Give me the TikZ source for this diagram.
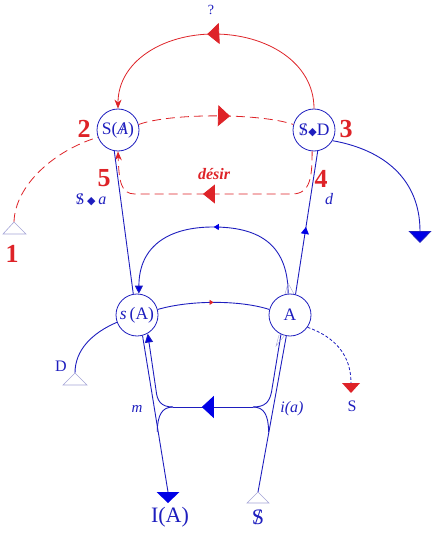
\documentclass[tikz,border=0pt]{standalone}
\usepackage{fontspec}
\setmainfont{Liberation Serif}
\newfontfamily\djv{DejaVu Sans}
\usetikzlibrary{arrows.meta,decorations.markings}
\definecolor{lb}{RGB}{30,30,190}
\definecolor{fb}{RGB}{0,0,230}
\definecolor{lr}{RGB}{222,35,40}
\definecolor{pale}{RGB}{165,165,215}
\newcommand{\mybS}{\ooalign{S\cr\hidewidth/\hidewidth\cr}}
\newcommand{\mybA}{\ooalign{\textit{A}\cr\hidewidth/\hidewidth\cr}}
\newcommand{\mydiam}{{\djv\fontsize{11}{11}\selectfont ◆}}
\begin{document}
\begin{tikzpicture}[x=1pt,y=-1pt,
  circ/.style={draw=lb, line width=0.8pt, circle, minimum size=42pt, inner sep=0pt, text=lb, font=\fontsize{17.5}{17.5}\selectfont},
  bl/.style={draw=lb, line width=0.9pt},
  rl/.style={draw=lr, line width=0.8pt},
  rdash/.style={rl, dash pattern=on 9pt off 5pt},
  midarr/.style n args={3}{postaction={decorate,decoration={markings,mark=at position #1 with {\arrow[#2]{#3}}}}},
  num/.style={text=lr, font=\fontsize{26}{26}\selectfont\bfseries, inner sep=0pt},
  lab/.style={text=lb, inner sep=0pt},
  hollowtri/.style={draw=pale, fill=white, line width=0.6pt},
  pt/.style={draw=pale, line width=0.4pt}
]
\path[use as bounding box] (0,0) rectangle (440,537);

% main nodes
\node[circ] (SA) at (118,130) {S(\mybA)};
\node[circ] (SD) at (314,130) {\mybS\mydiam D};
\node[circ] (sA) at (137,315) {\textit{s}\,(A)};
\node[circ] (AA) at (290,315) {A};

% free-end coordinates
\coordinate (t1) at (14,222);
\coordinate (tD) at (75,373);
\coordinate (tS) at (258,492);
\coordinate (eIA) at (168,492);
\coordinate (eR) at (420,243);
\coordinate (eS) at (351,393);
\coordinate (hR) at (253,407);
\coordinate (hL) at (173,407);
\coordinate (jR) at (268.6,432);
\coordinate (jL) at (157.2,432);

% red solid top arc
\draw[rl, -{Stealth[length=9pt,width=7pt]},
  midarr={0.53}{lr}{Triangle[length=12pt,width=21pt]}]
  (SD.north) .. controls (314,62) and (266,34) .. (214,34)
  .. controls (162,34) and (118,62) .. (SA.north);
\node[lab, font=\fontsize{14}{14}\selectfont] (q) at (211,10) {?};

% red dashed upper
\draw[rdash, midarr={0.59}{lr}{Triangle[length=12pt,width=21pt]}]
  (SA.15) .. controls (170,113) and (260,113) .. (SD.165);

% red dashed from 1
\draw[rdash] (t1) .. controls (15,185) and (55,150) .. (SA.200);
\draw[hollowtri] (t1) -- ++(-11,12) -- ++(23,0) -- cycle;

% desir path
\draw[rdash, -{Stealth[length=9pt,width=7pt]},
  midarr={0.545}{lr}{Triangle[length=12pt,width=19pt]}]
  (SD.-95) .. controls (312,176) and (311,194) .. (292,194)
  -- (135,194) .. controls (121,194) and (119,182) .. (SA.-90);
\node[text=lr, inner sep=0pt, font=\fontsize{16}{16}\selectfont\bfseries\itshape] (desir) at (214,174) {désir};

% numbers
\node[num] (n1) at (12,254) {1};
\node[num] (n2) at (84,129) {2};
\node[num] (n3) at (346,129) {3};
\node[num] (n4) at (321,179) {4};
\node[num] (n5) at (104,178) {5};

% blue labels
\node[lab, font=\fontsize{16}{16}\selectfont] (Sa) at (91,200) {\mybS\,\mydiam\,\textit{a}};
\node[lab, font=\fontsize{16}{16}\selectfont\itshape] (d) at (329,199) {d};

% blue lines upper
\draw[bl] (SA.-100) -- (sA.100);
\draw[bl, midarr={0.47}{fb}{Triangle[length=7pt,width=8pt]}] (AA.75) -- (SD.-80);
\draw[bl, -{Triangle[length=12pt,width=23pt,fill=fb]}]
  (SD.-30) .. controls (385,150) and (420,180) .. (eR);

% arc from A to s(A)
\draw[bl, -{Triangle[length=8pt,width=8pt,fill=fb]},
  midarr={0.5}{fb}{Triangle[length=5pt,width=6pt]}]
  (AA.95) .. controls (288,242) and (256,227) .. (213,227)
  .. controls (170,227) and (139,245) .. (sA.85);

% s(A) to A
\draw[bl, midarr={0.5}{lr}{Triangle[length=4pt,width=5pt]}]
  (sA.15) .. controls (190,300) and (240,300) .. (AA.165);

% D branch
\draw[bl] (sA.200) .. controls (92,333) and (75,350) .. (tD);
\draw[hollowtri] (tD) -- ++(-12,12) -- ++(24,0) -- cycle;
\node[lab, font=\fontsize{16}{16}\selectfont] (Dl) at (61,366) {D};

% dashed to S
\draw[draw=lb, line width=0.8pt, dash pattern=on 3pt off 2pt]
  (AA.-35) .. controls (335,337) and (351,355) .. (351,383);
\fill[lr] (eS) -- ++(-9,-10) -- ++(18,0) -- cycle;
\node[lab, font=\fontsize{16}{16}\selectfont] (Sl) at (352,406) {S};

% lower structure
\draw[bl] (sA.-75) -- (eIA);
\fill[fb] (eIA) ++(-11.5,0) -- ++(23,0) -- ++(-11.5,11) -- cycle;
\draw[bl] (tS) -- (AA.-100);
\draw[bl, -{Triangle[length=9pt,width=8pt,fill=fb]}]
  (hL) .. controls (161,407) and (157,401) .. (156,390) -- (sA.-60);
\draw[bl] (AA.-115) -- (271.5,392) .. controls (269.5,402) and (265,407) .. (hR);
\draw[bl, midarr={0.64}{fb}{Triangle[length=12pt,width=22pt]}] (hR) -- (hL);
\draw[bl] (hL) .. controls (162,407) and (157.5,415) .. (jL);
\draw[bl] (hR) .. controls (264,407) and (268.5,415) .. (jR);
\draw[hollowtri] (tS) -- ++(-11,11) -- ++(22,0) -- cycle;

% faint tips at A
\draw[pt] (288,283) -- (285,294) -- (294,294) -- cycle;
\draw[pt] (276,346) -- (279,335) -- (285,335) -- cycle;

\node[lab, font=\fontsize{15}{15}\selectfont\itshape] (m) at (137,409) {m};
\node[lab, font=\fontsize{16}{16}\selectfont\itshape] (ia) at (292,409) {i(a)};
\node[lab, font=\fontsize{22}{22}\selectfont] (IA) at (170,517) {I(A)};
\node[lab, font=\fontsize{22}{22}\selectfont] (bS) at (258,517) {\mybS};
\end{tikzpicture}
\end{document}
